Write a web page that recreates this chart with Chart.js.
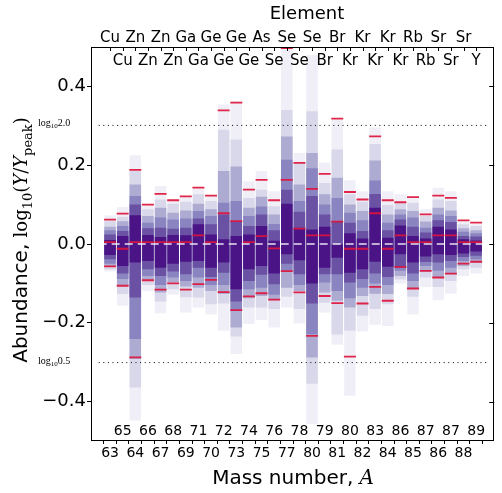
<!DOCTYPE html>
<html><head><meta charset="utf-8">
<script src="https://cdn.jsdelivr.net/npm/chart.js@4"></script>
<style>html,body{margin:0;padding:0;background:#fff;}</style>
</head><body>
<canvas id="c" width="502" height="493"></canvas>
<script>
const elements = ['Cu','Cu','Zn','Zn','Zn','Zn','Ga','Ga','Ge','Ge','Ge','Ge','As','Se','Se','Se','Se','Br','Br','Kr','Kr','Kr','Kr','Kr','Rb','Rb','Sr','Sr','Sr','Y'];
const massNumbers = [63,65,64,66,67,68,69,71,70,72,73,74,75,76,77,78,80,79,81,80,82,83,84,86,85,87,86,87,88,89];
const yTickValues = [-0.4,-0.2,0.0,0.2,0.4];
const refLog2 = 0.30103, refLogHalf = -0.30103, refZero = 0;

const band1Low  = [-0.028,-0.056,-0.047,-0.043,-0.06,-0.05,-0.045,-0.043,-0.06,-0.047,-0.115,-0.064,-0.056,-0.075,-0.026,-0.041,-0.1,-0.06,-0.035,-0.073,-0.064,-0.045,-0.058,-0.026,-0.047,-0.032,-0.026,-0.028,-0.024,-0.019];
const band1High = [0.01,0.02,0.073,0.023,0.018,0.023,0.022,0.05,0.024,0.012,0.02,0.024,0.046,0.008,0.102,0.041,0.037,0.044,-0.001,0.027,0.014,0.092,0.016,0.047,0.02,0.014,0.044,0.037,0.012,0.009];
const band2Low  = [-0.039,-0.075,-0.136,-0.064,-0.081,-0.07,-0.077,-0.06,-0.084,-0.073,-0.146,-0.094,-0.078,-0.102,-0.05,-0.077,-0.151,-0.077,-0.077,-0.098,-0.089,-0.075,-0.084,-0.06,-0.075,-0.046,-0.047,-0.043,-0.033,-0.03];
const band2High = [0.024,0.033,0.1,0.04,0.041,0.039,0.041,0.065,0.05,0.075,0.058,0.046,0.075,0.035,0.138,0.082,0.122,0.075,0.058,0.054,0.033,0.127,0.035,0.062,0.044,0.029,0.06,0.056,0.02,0.019];
const band3Low  = [-0.05,-0.089,-0.241,-0.081,-0.104,-0.085,-0.094,-0.085,-0.104,-0.104,-0.17,-0.115,-0.111,-0.129,-0.068,-0.104,-0.229,-0.098,-0.119,-0.138,-0.111,-0.1,-0.104,-0.068,-0.094,-0.056,-0.068,-0.06,-0.043,-0.039];
const band3High = [0.035,0.046,0.122,0.054,0.067,0.062,0.065,0.084,0.071,0.105,0.109,0.071,0.095,0.051,0.214,0.109,0.192,0.1,0.117,0.079,0.06,0.161,0.054,0.075,0.067,0.041,0.075,0.071,0.031,0.027];
const band4Low  = [-0.058,-0.104,-0.292,-0.092,-0.123,-0.098,-0.108,-0.111,-0.119,-0.127,-0.212,-0.138,-0.132,-0.143,-0.111,-0.119,-0.288,-0.123,-0.144,-0.161,-0.132,-0.126,-0.127,-0.081,-0.112,-0.07,-0.085,-0.077,-0.056,-0.047];
const band4High = [0.044,0.058,0.151,0.071,0.092,0.079,0.085,0.102,0.088,0.185,0.197,0.092,0.12,0.075,0.273,0.151,0.231,0.126,0.168,0.1,0.084,0.212,0.075,0.088,0.084,0.057,0.092,0.085,0.04,0.035];
const band5Low  = [-0.065,-0.127,-0.364,-0.104,-0.146,-0.115,-0.135,-0.136,-0.153,-0.151,-0.235,-0.161,-0.161,-0.165,-0.134,-0.165,-0.355,-0.149,-0.23,-0.22,-0.182,-0.165,-0.153,-0.09,-0.134,-0.085,-0.109,-0.094,-0.064,-0.06];
const band5High = [0.058,0.069,0.186,0.088,0.113,0.102,0.107,0.126,0.109,0.29,0.265,0.117,0.138,0.096,0.34,0.206,0.337,0.155,0.24,0.126,0.107,0.254,0.099,0.105,0.105,0.071,0.113,0.109,0.05,0.046];
const band6Low  = [-0.07,-0.157,-0.448,-0.119,-0.176,-0.128,-0.174,-0.161,-0.178,-0.22,-0.279,-0.203,-0.193,-0.212,-0.161,-0.202,-0.457,-0.174,-0.256,-0.385,-0.222,-0.205,-0.208,-0.1,-0.178,-0.109,-0.143,-0.126,-0.081,-0.075];
const band6High = [0.073,0.094,0.225,0.099,0.147,0.113,0.119,0.141,0.122,0.354,0.362,0.159,0.185,0.134,0.5,0.231,0.48,0.206,0.316,0.162,0.134,0.296,0.134,0.126,0.116,0.088,0.143,0.134,0.058,0.051];
const markerHigh = [0.062,0.077,0.188,0.1,0.127,0.111,0.121,0.143,0.123,0.339,0.359,0.138,0.163,0.111,0.497,0.206,0.14,0.178,0.318,0.132,0.113,0.273,0.111,0.106,0.119,0.075,0.123,0.117,0.06,0.054];
const markerMid  = [0.005,-0.012,0.005,0.005,0.005,0.005,0.005,0.022,0.005,0.078,0.058,0.005,0.02,-0.011,0.163,0.039,0.022,0.022,0.057,-0.012,-0.012,0.078,-0.012,0.022,0.005,0.005,0.022,0.022,0.005,0.005];
const markerLow  = [-0.057,-0.106,-0.288,-0.092,-0.116,-0.1,-0.116,-0.102,-0.091,-0.122,-0.168,-0.133,-0.125,-0.141,-0.069,-0.123,-0.233,-0.132,-0.15,-0.286,-0.151,-0.109,-0.144,-0.058,-0.113,-0.068,-0.085,-0.075,-0.05,-0.045];

const X_MIN = -0.9, X_MAX = 29.9;
const bandColors = ['#4a1486','#6a51a3','#8a85c0','#aeabd3','#d9d8ea','#f0eff7'];
const bandLows = [band1Low, band2Low, band3Low, band4Low, band5Low, band6Low];
const bandHighs = [band1High, band2High, band3High, band4High, band5High, band6High];

const datasets = [];
bandLows.forEach((lows, k) => {
  datasets.push({
    type: 'bar',
    data: lows.map((lo, i) => ({x: i, y: [lo, bandHighs[k][i]]})),
    backgroundColor: bandColors[k],
    borderWidth: 0,
    grouped: false,
    barPercentage: 0.91,
    categoryPercentage: 1.0,
    order: 10 + k
  });
});
datasets.push({
  type: 'line', data: [{x: X_MIN, y: refZero}, {x: X_MAX, y: refZero}],
  borderColor: 'rgba(255,255,255,0.65)', borderWidth: 2, borderDash: [8, 5],
  pointRadius: 0, order: 3
});
[refLog2, refLogHalf].forEach(v => datasets.push({
  type: 'line', data: [{x: X_MIN, y: v}, {x: X_MAX, y: v}],
  borderColor: '#000', borderWidth: 1, borderDash: [1, 3.6],
  pointRadius: 0, order: 2
}));
[markerHigh, markerMid, markerLow].forEach(arr => datasets.push({
  type: 'scatter',
  data: arr.map((v, i) => ({x: i, y: v})),
  pointStyle: 'line', pointRadius: 6, pointHoverRadius: 6,
  borderColor: 'rgba(222,20,60,0.92)', borderWidth: 1.8,
  order: 1
}));

const SANS = '"DejaVu Sans"';
const SERIF = '"DejaVu Serif"';

function drawParts(ctx, parts, x, y, align) {
  let total = 0;
  parts.forEach(p => { ctx.font = p.f; p.w = ctx.measureText(p.t).width; total += p.w; });
  let cx = align === 'center' ? x - total / 2 : (align === 'right' ? x - total : x);
  ctx.textAlign = 'left'; ctx.textBaseline = 'alphabetic';
  parts.forEach(p => { ctx.font = p.f; ctx.fillText(p.t, cx, y + (p.dy || 0)); cx += p.w; });
}

const overlay = {
  id: 'overlay',
  afterDraw(chart) {
    const {ctx, chartArea: a, scales} = chart;
    const xs = scales.x, ys = scales.y;
    ctx.save();
    ctx.strokeStyle = '#000'; ctx.fillStyle = '#000'; ctx.lineWidth = 1;
    // frame
    ctx.strokeRect(Math.round(a.left) - 0.5, Math.round(a.top) + 0.5, Math.round(a.right - a.left), Math.round(a.bottom - a.top) - 1);
    // top inward ticks
    ctx.beginPath();
    massNumbers.forEach((m, i) => {
      const px = Math.round(xs.getPixelForValue(i)) + 0.5;
      ctx.moveTo(px, a.top); ctx.lineTo(px, a.top + 4);
    });
    // right inward ticks
    yTickValues.forEach(v => {
      const py = Math.round(ys.getPixelForValue(v)) + 0.5;
      ctx.moveTo(a.right, py); ctx.lineTo(a.right - 5, py);
    });
    ctx.stroke();
    // inner labels (odd indices)
    ctx.font = '15px ' + SANS; ctx.textAlign = 'center'; ctx.textBaseline = 'alphabetic';
    elements.forEach((e, i) => { if (i % 2 === 1) ctx.fillText(e, xs.getPixelForValue(i), a.top + 18); });
    ctx.font = '14px ' + SANS;
    massNumbers.forEach((m, i) => { if (i % 2 === 1) ctx.fillText(String(m), xs.getPixelForValue(i), a.bottom - 6); });
    // reference labels
    [[refLog2, '2.0'], [refLogHalf, '0.5']].forEach(([v, t]) => {
      const py = ys.getPixelForValue(v) + 1;
      drawParts(ctx, [
        {t: 'log', f: '10px "Liberation Serif"'},
        {t: '10', f: '7px "Liberation Serif"', dy: 2},
        {t: t, f: '10px "Liberation Serif"'}
      ], 38, py, 'left');
    });
    // titles
    drawParts(ctx, [{t: 'Element', f: '18px ' + SANS}], 307, 19, 'center');
    drawParts(ctx, [
      {t: 'Mass number, ', f: '20px ' + SANS},
      {t: 'A', f: 'italic 20px ' + SERIF}
    ], (a.left + a.right) / 2, 484, 'center');
    ctx.save();
    ctx.translate(27, 240); ctx.rotate(-Math.PI / 2);
    drawParts(ctx, [
      {t: 'Abundance, ', f: '20px ' + SANS},
      {t: 'log', f: '18px ' + SERIF},
      {t: '10', f: '13px ' + SERIF, dy: 5},
      {t: '(', f: '18px ' + SERIF},
      {t: 'Y', f: 'italic 18px ' + SERIF},
      {t: '/', f: '18px ' + SERIF},
      {t: 'Y', f: 'italic 18px ' + SERIF},
      {t: 'peak', f: '13px ' + SERIF, dy: 5},
      {t: ')', f: '18px ' + SERIF}
    ], 0, 0, 'center');
    ctx.restore();
    ctx.restore();
  }
};

const columnTicks = s => { s.ticks = massNumbers.map((m, i) => ({value: i})); };

new Chart(document.getElementById('c'), {
  type: 'bar',
  data: {datasets},
  options: {
    responsive: false,
    animation: false,
    devicePixelRatio: 1,
    layout: {padding: {left: 0, right: 3, top: 0, bottom: 0}},
    plugins: {legend: {display: false}, tooltip: {enabled: false}, title: {display: false}},
    scales: {
      x: {
        type: 'linear', position: 'bottom', min: X_MIN, max: X_MAX,
        afterBuildTicks: columnTicks,
        afterFit: s => { s.height = 52; },
        ticks: {
          autoSkip: false, maxRotation: 0, padding: 1, color: '#000',
          font: {family: 'DejaVu Sans', size: 14},
          callback: (v, i) => (i % 2 === 0 ? String(massNumbers[i]) : '')
        },
        grid: {drawOnChartArea: false, drawTicks: true, tickLength: 3, color: '#000', tickColor: '#000'},
        border: {display: false}
      },
      x2: {
        type: 'linear', position: 'top', min: X_MIN, max: X_MAX,
        afterBuildTicks: columnTicks,
        afterFit: s => { s.height = 47; },
        ticks: {
          autoSkip: false, maxRotation: 0, padding: 0, color: '#000',
          font: {family: 'DejaVu Sans', size: 15},
          callback: (v, i) => (i % 2 === 0 ? elements[i] : '')
        },
        grid: {drawOnChartArea: false, drawTicks: false},
        border: {display: false}
      },
      y: {
        type: 'linear', min: -0.5, max: 0.5,
        afterBuildTicks: s => { s.ticks = yTickValues.map(v => ({value: v})); },
        afterFit: s => { s.width = 92; },
        ticks: {
          padding: 1, color: '#000',
          font: {family: 'DejaVu Sans', size: 18},
          callback: v => (v < 0 ? '\u2212' : '') + Math.abs(v).toFixed(1)
        },
        grid: {drawOnChartArea: false, drawTicks: true, tickLength: 5, color: '#000', tickColor: '#000'},
        border: {display: false}
      }
    }
  },
  plugins: [overlay]
});
</script>
</body></html>
